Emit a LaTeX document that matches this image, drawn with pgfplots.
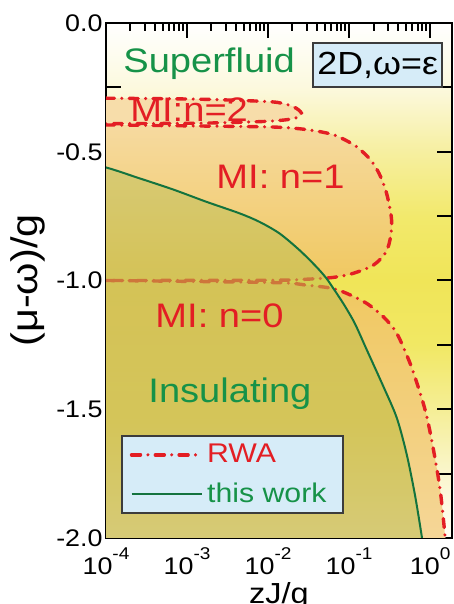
\documentclass[border=0pt]{standalone}
\usepackage{fontspec}
\setmainfont{Liberation Sans}[FakeStretch=1.12]
\usepackage{pgfplots}
\usepackage{pgfplotstable}
\pgfplotsset{compat=1.18}
\definecolor{myred}{RGB}{227,30,36}
\definecolor{mygreen}{RGB}{22,146,72}
\definecolor{lgreen}{RGB}{20,115,62}
\definecolor{bgA}{RGB}{255,254,245}
\definecolor{bgB}{RGB}{250,246,205}
\definecolor{bgC}{RGB}{245,238,150}
\definecolor{bgD}{RGB}{241,232,100}
\definecolor{bgE}{RGB}{240,229,88}
\definecolor{bgF}{RGB}{242,233,108}
\definecolor{bgG}{RGB}{246,239,160}
\definecolor{bgH}{RGB}{252,249,222}
\pgfdeclareverticalshading{bgshade}{100bp}{color(0bp)=(bgA); color(25bp)=(bgA); color(31.25bp)=(bgB);
  color(37.5bp)=(bgC); color(43.75bp)=(bgD); color(50bp)=(bgE); color(56.25bp)=(bgF);
  color(62.5bp)=(bgG); color(68.75bp)=(bgH); color(75bp)=(white); color(100bp)=(white)}
\definecolor{ortwo}{RGB}{247,221,170}
\definecolor{oronetop}{RGB}{246,218,160}
\definecolor{orone}{RGB}{240,200,96}
\definecolor{orzerobot}{RGB}{248,222,182}
\definecolor{oltop}{RGB}{192,193,95}
\definecolor{olmid}{RGB}{188,189,60}
\definecolor{olbot}{RGB}{193,198,133}
\definecolor{boxblue}{RGB}{214,236,248}
\definecolor{boxgray}{RGB}{60,60,60}

\pgfplotstableread{
x y
5e-5 -0.545
1e-4 -0.561
2.58e-4 -0.603
6.66e-4 -0.646
1.72e-3 -0.694
4.43e-3 -0.739
7.8e-3 -0.772
0.0138 -0.817
0.0244 -0.882
0.0392 -0.946
0.0520 -0.990
0.0634 -1.029
0.0774 -1.070
0.0918 -1.107
0.1186 -1.169
0.1656 -1.270
0.265 -1.412
0.388 -1.534
0.516 -1.678
0.653 -1.837
0.790 -1.996
0.80 -2.02
}\thiswork

\pgfplotstableread{
x y
5e-5 -0.545
1e-4 -0.561
2.58e-4 -0.603
6.66e-4 -0.646
1.72e-3 -0.694
4.43e-3 -0.739
7.8e-3 -0.772
0.0138 -0.817
0.0244 -0.882
0.0392 -0.946
0.0520 -0.990
0.0634 -1.029
0.0774 -1.070
0.0918 -1.107
0.1186 -1.169
0.1656 -1.270
0.265 -1.412
0.388 -1.534
0.516 -1.678
0.653 -1.837
0.790 -1.996
0.80 -2.02
0.81 -2.5
5e-5 -2.5
}\thisworkfill

\pgfplotstableread{
x y
5e-5 -0.291
1e-4 -0.292
1.45e-3 -0.296
0.0097 -0.305
0.0155 -0.313
0.0204 -0.325
0.0237 -0.337
0.0258 -0.350
0.0245 -0.362
0.0215 -0.370
0.0155 -0.377
0.008 -0.383
1.45e-3 -0.389
1e-4 -0.391
5e-5 -0.391
}\ntwo

\pgfplotstableread{
x y
5e-5 -0.396
1e-4 -0.396
1.45e-3 -0.400
0.0116 -0.404
0.030 -0.414
0.064 -0.434
0.113 -0.472
0.15 -0.503
0.19 -0.537
0.235 -0.585
0.28 -0.645
0.315 -0.71
0.335 -0.77
0.325 -0.83
0.285 -0.89
0.2 -0.94
0.113 -0.972
0.064 -0.988
0.03 -0.995
0.0114 -0.999
1e-4 -1.0
5e-5 -1.0
}\none

\pgfplotstableread{
x y
5e-5 -1.0
1e-4 -1.0
0.0114 -1.008
0.0295 -1.018
0.063 -1.031
0.103 -1.056
0.165 -1.089
0.265 -1.141
0.387 -1.205
0.566 -1.322
0.754 -1.438
0.91 -1.529
1.10 -1.658
1.33 -1.814
1.53 -1.995
1.55 -2.03
}\nzero

\pgfplotstableread{
x y
5e-5 -1.0
1e-4 -1.0
0.0114 -1.008
0.0295 -1.018
0.063 -1.031
0.103 -1.056
0.165 -1.089
0.265 -1.141
0.387 -1.205
0.566 -1.322
0.754 -1.438
0.91 -1.529
1.10 -1.658
1.33 -1.814
1.53 -1.995
1.55 -2.03
1.6 -2.5
5e-5 -2.5
}\nzerofill

\newcommand{\tl}[1]{10\raisebox{7.5pt}{\fontsize{8.5}{9}\selectfont #1}}

\begin{document}
\begin{tikzpicture}
\begin{axis}[
  scale only axis, width=173pt, height=257.5pt,
  xmode=log, xmin=1e-4, xmax=1.86, ymin=-2, ymax=0,
  axis background/.style={shading=bgshade},
  axis line style={line width=1.3pt},
  every tick/.style={black, line width=1pt},
  major tick length=7.5pt, minor tick length=4pt,
  xtick={1e-4,1e-3,1e-2,1e-1,1},
  xticklabels={\tl{-4},\tl{-3},\tl{-2},\tl{-1},\tl{0}},
  ytick={-2,-1.75,-1.5,-1.25,-1,-0.75,-0.5,-0.25,0},
  yticklabels={-2.0,,-1.5,,-1.0,,-0.5,,0.0},
  tick label style={font=\fontsize{12}{14}\selectfont},
  yticklabel style={inner xsep=1.5pt},
  xticklabel style={yshift=-1.5pt},
  xlabel={zJ/g},
  ylabel={(μ-ω)/g},
  xlabel style={at={(axis description cs:0.5,-0.0854)}, anchor=north, inner sep=0pt, font=\fontsize{14.5}{16}\selectfont},
  ylabel style={at={(axis description cs:-0.2254,0.5)}, anchor=center, inner sep=0pt, font=\fontsize{18.5}{20}\selectfont},
  legend style={at={(0.0434,0.0466)}, anchor=south west, fill=boxblue, draw=boxgray, line width=0.8pt,
    font=\fontsize{13.5}{16}\selectfont, inner xsep=4pt, inner ysep=2pt, row sep=4.5pt},
  legend cell align=left,
  legend image code/.code={\draw[#1] (0pt,0pt) -- (35pt,0pt);},
]
% orange Mott lobes
\addplot[draw=none, smooth, fill=ortwo, forget plot] table {\ntwo};
\addplot[draw=none, smooth, top color=oronetop, bottom color=orone, forget plot] table {\none};
\addplot[draw=none, smooth, top color=orone, bottom color=orzerobot, forget plot] table {\nzerofill};
% RWA boundaries
\addplot[myred, smooth, line width=1.7pt, line cap=round, dash pattern=on 4.5pt off 3.7pt on 0pt off 3.7pt] table {\nzero};
\addlegendentry{\makebox[62pt][l]{\textcolor{myred}{RWA}}}
\addplot[myred, smooth, line width=1.7pt, line cap=round, dash pattern=on 4.5pt off 3.7pt on 0pt off 3.7pt, forget plot] table {\none};
\addplot[myred, smooth, line width=1.7pt, line cap=round, dash pattern=on 4.5pt off 3.7pt on 0pt off 3.7pt, forget plot] table {\ntwo};
% insulating region (this work)
\addplot[draw=none, smooth, top color=oltop, bottom color=olbot, middle color=olmid, fill opacity=0.55, forget plot] table {\thisworkfill};
\addplot[lgreen, smooth, line width=1pt] table {\thiswork};
\addlegendentry{\makebox[62pt][l]{\textcolor{mygreen}{this work}}}

\node[anchor=base west, inner sep=0, text=mygreen, font=\fontsize{17}{20}\selectfont] at (axis cs:1.62e-4,-0.194) {Superfluid};
\node[anchor=base west, inner sep=0, text=mygreen, font=\fontsize{17}{20}\selectfont] at (axis cs:3.3e-4,-1.472) {Insulating};
\node[anchor=base west, inner sep=0, text=myred, font=\fontsize{17}{20}\selectfont] at (axis cs:1.98e-4,-0.384) {MI:n=2};
\node[anchor=base west, inner sep=0, text=myred, font=\fontsize{17}{20}\selectfont] at (axis cs:2.28e-3,-0.641) {MI: n=1};
\node[anchor=base west, inner sep=0, text=myred, font=\fontsize{17}{20}\selectfont] at (axis cs:4.03e-4,-1.184) {MI: n=0};
\node[draw=boxgray, fill=boxblue, line width=0.8pt, minimum width=64.5pt, minimum height=22pt, inner sep=0pt,
      font=\fontsize{16}{18}\selectfont] at (axis cs:0.225,-0.163) {2D,ω=ε};

\coordinate (bbSW) at (rel axis cs:-0.3064,-0.1282);
\coordinate (bbNE) at (rel axis cs:1.0058,1.0447);
\end{axis}
\pgfresetboundingbox
\useasboundingbox (bbSW) rectangle (bbNE);
\end{tikzpicture}
\end{document}
